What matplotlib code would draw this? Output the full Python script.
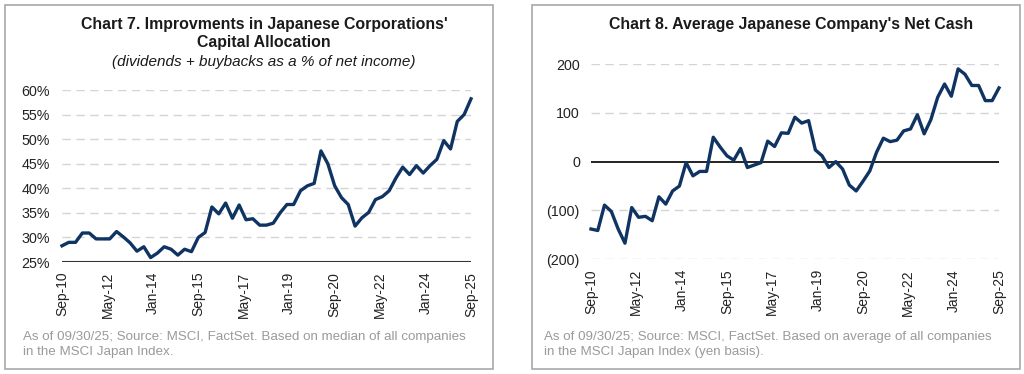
import pandas as pd
import matplotlib.pyplot as plt
from matplotlib.patches import Rectangle
from matplotlib.ticker import FuncFormatter

plt.rcParams["font.family"] = ["Liberation Sans", "DejaVu Sans"]

# quarterly data, Sep-10 .. Sep-25
dates = pd.date_range("2010-09-01", "2025-09-01", freq="QS-MAR")

payout_pct = [28.3, 29.0, 29.0, 30.9, 30.9, 29.7, 29.7, 29.7, 31.2, 30.1,
              28.9, 27.2, 28.1, 25.9, 26.8, 28.1, 27.6, 26.4, 27.6, 27.1,
              30.0, 31.0, 36.2, 34.8, 37.0, 33.9, 36.6, 33.6, 33.8, 32.5,
              32.5, 32.9, 35.0, 36.7, 36.7, 39.5, 40.5, 41.0, 47.6, 45.0,
              40.5, 38.1, 36.7, 32.3, 34.0, 35.1, 37.7, 38.3, 39.5, 42.1,
              44.3, 42.8, 44.6, 43.1, 44.6, 45.9, 49.7, 48.0, 53.6, 55.0,
              58.2]

net_cash = [-138, -141, -89, -102, -138, -167, -94, -114, -112, -121,
            -72, -87, -60, -50, -2, -29, -20, -20, 50, 30,
            12, 3, 27, -12, -7, -2, 42, 31, 59, 58,
            91, 79, 84, 24, 12, -12, 0, -15, -48, -60,
            -40, -19, 19, 48, 41, 44, 63, 67, 96, 57,
            86, 132, 159, 134, 190, 179, 156, 156, 125, 125,
            151]

tick_labels = ["Sep-10", "May-12", "Jan-14", "Sep-15", "May-17",
               "Jan-19", "Sep-20", "May-22", "Jan-24", "Sep-25"]
tick_dates = pd.to_datetime(tick_labels, format="%b-%y")

left_ticks = [25, 30, 35, 40, 45, 50, 55, 60]
right_ticks = [-200, -100, 0, 100, 200]

line_color = "#0f3462"
grid_color = "#d4d4d4"
note_color = "#9a9a9a"
title_size = 11.4
note_size = 9.6

fig = plt.figure(figsize=(10.24, 3.74), dpi=100)

# panel frames
for x0 in (5 / 1024, 532 / 1024):
    fig.patches.append(Rectangle((x0, 5 / 374), 488 / 1024, 364 / 374,
                                 transform=fig.transFigure, fill=False,
                                 edgecolor="#a8a8a8", linewidth=1.2))


def style_axis(ax, ticks, pad):
    for s in ax.spines.values():
        s.set_visible(False)
    ax.set_xlim(dates[0], dates[-1])
    ax.set_xticks(tick_dates)
    ax.set_xticklabels(tick_labels, rotation=90, fontsize=10, color="#222222")
    ax.set_yticks(ticks)
    ax.tick_params(axis="y", length=0, pad=pad, labelsize=10.3, labelcolor="#222222")
    ax.tick_params(axis="x", length=0, pad=7)
    for t in ticks:
        ax.axhline(t, color=grid_color, linestyle=(0, (6, 4)), linewidth=1.0, zorder=1)


# Chart 7
ax1 = fig.add_axes([62 / 1024, 1 - 262 / 374, 409 / 1024, 172 / 374])
style_axis(ax1, left_ticks[1:], 9)
ax1.set_yticks(left_ticks)
ax1.set_ylim(25, 60)
ax1.axhline(25, color="#333333", linewidth=1.5, zorder=2)
ax1.yaxis.set_major_formatter(FuncFormatter(lambda v, p: f"{v:.0f}%"))
ax1.plot(dates, payout_pct, color=line_color, linewidth=2.4, zorder=3, clip_on=False)

fig.text(264 / 1024, 1 - 25 / 374, "Chart 7. Improvments in Japanese Corporations'",
         ha="center", va="center", fontsize=title_size, fontweight="bold", color="#1a1a1a")
fig.text(264 / 1024, 1 - 43 / 374, "Capital Allocation",
         ha="center", va="center", fontsize=title_size, fontweight="bold", color="#1a1a1a")
fig.text(264 / 1024, 1 - 62 / 374, "(dividends + buybacks as a % of net income)",
         ha="center", va="center", fontsize=11, style="italic", color="#1a1a1a")
fig.text(23 / 1024, 1 - 337 / 374,
         "As of 09/30/25; Source: MSCI, FactSet. Based on median of all companies",
         ha="left", va="center", fontsize=note_size, color=note_color)
fig.text(23 / 1024, 1 - 352 / 374, "in the MSCI Japan Index.",
         ha="left", va="center", fontsize=note_size, color=note_color)

# Chart 8
ax2 = fig.add_axes([591 / 1024, 1 - 259.3 / 374, 408 / 1024, 195.3 / 374])
style_axis(ax2, [-200, -100, 100, 200], 8)
ax2.set_yticks(right_ticks)
ax2.set_ylim(-200, 200)
ax2.axhline(0, color="#111111", linewidth=1.3, zorder=2)
ax2.yaxis.set_major_formatter(
    FuncFormatter(lambda v, p: f"({abs(v):.0f})" if v < 0 else f"{v:.0f}"))
ax2.plot(dates, net_cash, color=line_color, linewidth=2.4, zorder=3, clip_on=False)

fig.text(791 / 1024, 1 - 25 / 374, "Chart 8. Average Japanese Company's Net Cash",
         ha="center", va="center", fontsize=title_size, fontweight="bold", color="#1a1a1a")
fig.text(544 / 1024, 1 - 337 / 374,
         "As of 09/30/25; Source: MSCI, FactSet. Based on average of all companies",
         ha="left", va="center", fontsize=note_size, color=note_color)
fig.text(544 / 1024, 1 - 352 / 374, "in the MSCI Japan Index (yen basis).",
         ha="left", va="center", fontsize=note_size, color=note_color)

fig.savefig("out.png", dpi=100)
